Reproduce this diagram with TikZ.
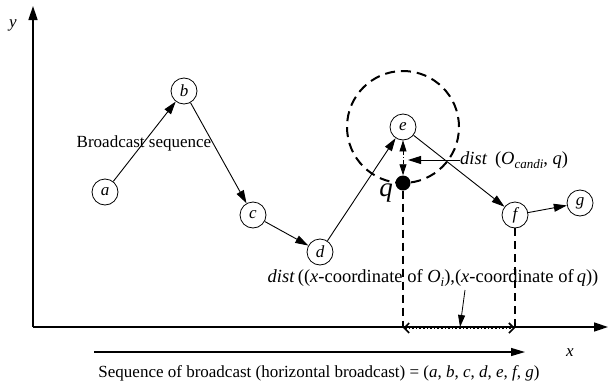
\documentclass[tikz,border=0pt]{standalone}
\usepackage{fontspec}
\setmainfont{LiberationSerif}[Extension=.ttf,UprightFont=*-Regular,ItalicFont=*-Italic,BoldFont=*-Bold,BoldItalicFont=*-BoldItalic]
\usetikzlibrary{arrows.meta}
\newcommand{\lowidx}[1]{\raisebox{-0.25em}{\fontsize{13}{14}\selectfont\itshape #1}}
\begin{document}
\begin{tikzpicture}[x=1pt,y=-1pt,
  vertex/.style={circle,draw,line width=0.8pt,minimum size=26pt,inner sep=0pt,
    font=\fontsize{17}{20}\selectfont\itshape},
  link/.style={line width=0.9pt,-{Triangle[length=13pt,width=8pt]}},
  lbl/.style={font=\fontsize{17}{20}\selectfont,inner sep=0pt},
  biglbl/.style={font=\fontsize{18.5}{21}\selectfont,inner sep=0pt},
  axis/.style={line width=1.5pt,-{Triangle[length=14pt,width=9pt]}},
  guide/.style={line width=2pt,dash pattern=on 8pt off 5pt},
]
\useasboundingbox (0,0) rectangle (609,388);

% axes
\coordinate (O) at (33,327);
\coordinate (ytop) at (33,6);
\coordinate (xend) at (608,327);
\draw[axis] (O) -- (ytop);
\draw[axis] (O) -- (xend);
\node[lbl,font=\fontsize{17}{20}\selectfont\itshape] (ylab) at (13,25) {y};
\node[lbl,font=\fontsize{17}{20}\selectfont\itshape] (xlab) at (570,353) {x};

% broadcast order arrow below the axis
\coordinate (s0) at (94,352);
\coordinate (s1) at (525,352);
\draw[line width=1.2pt,-{Triangle[length=14pt,width=8pt]}] (s0) -- (s1);
\node[lbl] (seq) at (319,373) {Sequence of broadcast (horizontal broadcast) = (\textit{a}, \textit{b}, \textit{c}, \textit{d}, \textit{e}, \textit{f}, \textit{g})};

% data items
\node[vertex] (a) at (105,192) {a};
\node[vertex] (b) at (184,91) {b};
\node[vertex] (c) at (253,215) {c};
\node[vertex] (d) at (320,252) {d};
\node[vertex] (e) at (403,127) {e};
\node[vertex] (f) at (515,215) {f};
\node[vertex] (g) at (580,203) {g};

\draw[link] (a) -- (b);
\draw[link] (b) -- (c);
\draw[link] (c) -- (d);
\draw[link] (d) -- (e);
\draw[link] (e) -- (f);
\draw[link] (f) -- (g);

\node[lbl] (bs) at (144,143) {Broadcast sequence};

% candidate circle around e and the query point
\draw[line width=2pt,dash pattern=on 10pt off 6pt] (e) circle[radius=56pt];
\node[circle,fill=black,minimum size=15pt,inner sep=0pt] (q) at (403,183) {};
\node[lbl,font=\fontsize{27}{30}\selectfont\itshape] (qlab) at (386,193) {q};

\draw[line width=0.8pt,dash pattern=on 4pt off 2pt on 1pt off 2pt,
  {Triangle[length=11pt,width=7pt]}-{Triangle[length=11pt,width=7pt]}] (e) -- (q);

\node[biglbl,anchor=west] (dc) at (460,160) {\textit{dist}\, (\textit{O}\lowidx{candi}, \textit{q})};
\draw[line width=0.9pt,-{Triangle[length=13pt,width=8pt]}] (dc.west) -- (408,160);

% projections onto the x axis
\coordinate (qx) at (403,328);
\coordinate (fx) at (515,328);
\draw[guide] (q) -- (qx);
\draw[guide] (f) -- (fx);
\draw[line width=1.6pt,dotted,{Straight Barb[length=5pt,width=10pt]}-{Straight Barb[length=5pt,width=10pt]}] (qx) -- (fx);

\node[biglbl] (dx) at (433,278) {\textit{dist}\,((\textit{x}-coordinate of \textit{O}\lowidx{i}),(\textit{x}-coordinate of\,\textit{q}))};
\coordinate (mid) at (460,327);
\draw[line width=0.8pt,-{Triangle[length=12pt,width=7pt]}] (465,290) -- (mid);
\end{tikzpicture}
\end{document}
